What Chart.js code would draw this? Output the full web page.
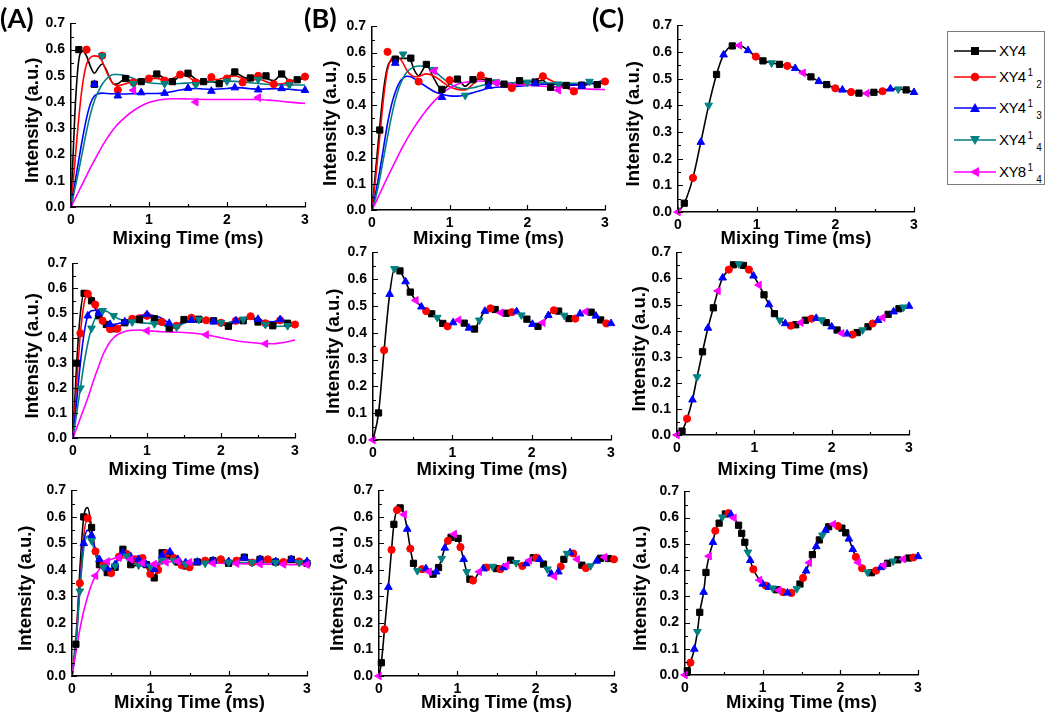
<!DOCTYPE html>
<html><head><meta charset="utf-8">
<script src="https://cdn.jsdelivr.net/npm/chart.js@4.4.1/dist/chart.umd.min.js"></script>
<style>
html,body{margin:0;padding:0;background:#fff;}
#wrap{position:relative;width:1050px;height:716px;overflow:hidden;font-family:'Liberation Sans',Arial,sans-serif;background:#fff;}
canvas.pc{position:absolute;}
.plabel{position:absolute;font-family:Lato,'Open Sans',sans-serif;font-weight:700;font-size:27px;color:#000;line-height:1;z-index:5;}
#legend{position:absolute;left:947px;top:31px;width:98px;height:154px;border:1px solid #7a7a7a;box-sizing:border-box;background:#fff;z-index:5;}
.li{position:absolute;left:0;height:20px;width:96px;}
.li svg{position:absolute;left:5px;top:0;}
.li .tx{position:absolute;left:51px;top:0;font-size:15px;line-height:20px;white-space:nowrap;letter-spacing:-0.6px;color:#000;}
.li sup{font-size:10px;position:relative;top:-6px;vertical-align:baseline;margin-left:2px;letter-spacing:0;}
.li sub{font-size:10px;position:relative;top:6px;vertical-align:baseline;margin-left:3px;letter-spacing:0;}
</style></head>
<body>
<div id="wrap">
  <div class="plabel" style="left:0px;top:4px;">(A)</div>
  <div class="plabel" style="left:304px;top:4px;">(B)</div>
  <div class="plabel" style="left:592px;top:4px;">(C)</div>
  <div id="legend"></div>
</div>
<script>
// ---------------- tick labels & series ----------------
const X_TICKS = [0, 1, 2, 3];
const Y_TICKS = [0.0, 0.1, 0.2, 0.3, 0.4, 0.5, 0.6, 0.7];
const SERIES_BASE = ['XY4', 'XY4', 'XY4', 'XY4', 'XY8'];
const SERIES_SUP  = ['', '1', '1', '1', '1'];
const SERIES_SUB  = ['', '2', '3', '4', '4'];
const X_TITLE = 'Mixing Time (ms)';
const Y_TITLE = 'Intensity (a.u.)';

// ---------------- time grids ----------------
const T37 = [0,0.05,0.1,0.15,0.2,0.25,0.3,0.35,0.4,0.45,0.5,0.55,0.6,0.7,0.8,0.9,1.0,1.1,1.2,1.3,1.4,1.5,1.6,1.7,1.8,1.9,2.0,2.1,2.2,2.3,2.4,2.5,2.6,2.7,2.8,2.9,3.0];
const T46 = [0,0.05,0.1,0.15,0.2,0.25,0.3,0.35,0.4,0.45,0.5,0.55,0.6,0.65,0.7,0.75,0.8,0.85,0.9,0.95,1.0,1.05,1.1,1.15,1.2,1.25,1.3,1.35,1.4,1.45,1.5,1.6,1.7,1.8,1.9,2.0,2.1,2.2,2.3,2.4,2.5,2.6,2.7,2.8,2.9,3.0];

// ---------------- Panel A, row 1 ----------------
const A1_XY4    = [0,0.36,0.56,0.595,0.575,0.535,0.51,0.53,0.545,0.525,0.49,0.468,0.47,0.49,0.476,0.478,0.492,0.505,0.49,0.479,0.5,0.507,0.487,0.474,0.478,0.472,0.49,0.512,0.497,0.488,0.5,0.49,0.482,0.505,0.482,0.484,0.492];
const A1_XY4_12 = [0,0.17,0.34,0.47,0.545,0.57,0.576,0.574,0.555,0.52,0.488,0.468,0.463,0.47,0.478,0.484,0.49,0.49,0.485,0.49,0.503,0.497,0.477,0.474,0.485,0.487,0.495,0.5,0.49,0.482,0.488,0.478,0.469,0.47,0.476,0.487,0.496];
const A1_XY4_13 = [0,0.09,0.18,0.265,0.34,0.395,0.423,0.432,0.434,0.433,0.432,0.432,0.431,0.431,0.432,0.433,0.433,0.433,0.435,0.44,0.446,0.451,0.452,0.45,0.449,0.45,0.452,0.455,0.454,0.451,0.449,0.45,0.451,0.451,0.449,0.446,0.444];
const A1_XY4_14 = [0,0.07,0.14,0.215,0.29,0.355,0.405,0.44,0.468,0.487,0.5,0.505,0.505,0.5,0.49,0.48,0.474,0.471,0.47,0.47,0.471,0.473,0.475,0.477,0.478,0.479,0.48,0.479,0.477,0.474,0.471,0.468,0.466,0.465,0.465,0.465,0.465];
const A1_XY8_14 = [0,0.03,0.06,0.09,0.12,0.15,0.178,0.205,0.232,0.256,0.278,0.298,0.316,0.344,0.367,0.385,0.398,0.406,0.411,0.413,0.413,0.412,0.411,0.41,0.41,0.41,0.41,0.41,0.41,0.41,0.41,0.408,0.406,0.403,0.4,0.397,0.395];
const A1_MT_XY4 = [0.1,0.3,0.7,0.9,1.1,1.3,1.5,1.7,1.9,2.1,2.3,2.5,2.7,2.9];
const A1_MV_XY4 = [0.6,0.468,0.49,0.478,0.507,0.478,0.51,0.478,0.47,0.515,0.492,0.5,0.507,0.485];
const A1_MT_XY4_12 = [0.2,0.4,0.6,0.8,1.0,1.2,1.4,1.6,1.8,2.0,2.2,2.4,2.6,2.8,3.0];
const A1_MV_XY4_12 = [0.6,0.577,0.446,0.475,0.49,0.482,0.505,0.475,0.495,0.49,0.475,0.5,0.468,0.474,0.497];
const A1_MT_XY4_13 = [0.3,0.6,0.9,1.2,1.5,1.8,2.1,2.4,2.7,3.0];
const A1_MV_XY4_13 = [0.468,0.424,0.436,0.434,0.453,0.442,0.455,0.447,0.452,0.445];
const A1_MT_XY4_14 = [0.4,0.8,1.2,1.6,2.0,2.4,2.8];
const A1_MV_XY4_14 = [0.576,0.47,0.47,0.466,0.48,0.486,0.465];
const A1_MT_XY8_14 = [0.8,1.6,2.4];
const A1_MV_XY8_14 = [0.445,0.4,0.417];

// ---------------- Panel B, row 1 ----------------
const B1_XY4    = [0,0.16,0.32,0.46,0.545,0.572,0.577,0.578,0.578,0.578,0.568,0.53,0.512,0.552,0.5,0.458,0.48,0.499,0.472,0.497,0.5,0.49,0.484,0.48,0.481,0.492,0.488,0.49,0.494,0.47,0.47,0.474,0.477,0.48,0.484,0.478,0.49];
const B1_XY4_12 = [0,0.13,0.28,0.43,0.535,0.577,0.586,0.58,0.56,0.532,0.515,0.508,0.51,0.519,0.51,0.49,0.47,0.46,0.458,0.48,0.505,0.5,0.485,0.478,0.475,0.478,0.485,0.495,0.507,0.495,0.48,0.466,0.457,0.468,0.481,0.488,0.49];
const B1_XY4_13 = [0,0.07,0.15,0.24,0.33,0.4,0.45,0.485,0.503,0.51,0.508,0.5,0.49,0.47,0.452,0.441,0.435,0.434,0.439,0.447,0.456,0.464,0.468,0.469,0.47,0.472,0.475,0.478,0.48,0.48,0.479,0.478,0.477,0.478,0.481,0.487,0.495];
const B1_XY4_14 = [0,0.05,0.12,0.2,0.28,0.355,0.42,0.468,0.503,0.526,0.539,0.546,0.549,0.547,0.53,0.505,0.482,0.467,0.462,0.466,0.474,0.48,0.483,0.484,0.485,0.485,0.485,0.485,0.485,0.484,0.483,0.483,0.483,0.484,0.486,0.488,0.49];
const B1_XY8_14 = [0,0.03,0.062,0.094,0.125,0.155,0.185,0.215,0.244,0.27,0.295,0.318,0.34,0.38,0.415,0.444,0.465,0.479,0.487,0.491,0.492,0.49,0.486,0.483,0.48,0.478,0.476,0.474,0.472,0.47,0.468,0.466,0.464,0.462,0.461,0.46,0.459];
const B1_MT_XY4 = [0.1,0.3,0.5,0.7,0.9,1.1,1.3,1.5,1.7,1.9,2.1,2.3,2.5,2.7,2.9];
const B1_MV_XY4 = [0.305,0.575,0.579,0.555,0.46,0.499,0.497,0.49,0.48,0.493,0.488,0.468,0.475,0.476,0.478];
const B1_MT_XY4_12 = [0.2,0.6,1.0,1.4,1.8,2.2,2.6,3.0];
const B1_MV_XY4_12 = [0.603,0.49,0.495,0.513,0.465,0.51,0.452,0.49];
const B1_MT_XY4_13 = [0.3,0.9,1.5,2.1,2.7];
const B1_MV_XY4_13 = [0.56,0.43,0.472,0.482,0.473];
const B1_MT_XY4_14 = [0.4,0.8,1.2,1.6,2.0,2.4,2.8];
const B1_MV_XY4_14 = [0.594,0.535,0.437,0.488,0.487,0.48,0.49];
const B1_MT_XY8_14 = [0.8,1.6,2.4];
const B1_MV_XY8_14 = [0.53,0.484,0.457];

// ---------------- Panel A, row 2 ----------------
const A2_XY4    = [0,0.3,0.5,0.58,0.575,0.55,0.52,0.49,0.468,0.455,0.445,0.438,0.44,0.462,0.465,0.475,0.49,0.478,0.47,0.44,0.445,0.475,0.482,0.476,0.468,0.47,0.458,0.448,0.468,0.47,0.482,0.465,0.46,0.45,0.47,0.46,0.455];
const A2_XY4_12 = [0,0.22,0.42,0.54,0.578,0.565,0.535,0.5,0.47,0.45,0.437,0.433,0.438,0.465,0.478,0.493,0.49,0.475,0.465,0.44,0.45,0.475,0.482,0.478,0.472,0.468,0.462,0.462,0.47,0.482,0.488,0.472,0.46,0.455,0.472,0.465,0.455];
const A2_XY4_13 = [0,0.15,0.3,0.42,0.49,0.51,0.512,0.5,0.478,0.462,0.456,0.455,0.458,0.466,0.474,0.488,0.495,0.49,0.48,0.46,0.452,0.462,0.472,0.474,0.471,0.466,0.462,0.462,0.47,0.478,0.482,0.476,0.468,0.466,0.475,0.468,0.455];
const A2_XY4_14 = [0,0.1,0.2,0.3,0.38,0.44,0.48,0.503,0.51,0.508,0.5,0.49,0.48,0.47,0.465,0.462,0.46,0.458,0.455,0.443,0.445,0.46,0.475,0.475,0.47,0.466,0.463,0.462,0.468,0.476,0.48,0.47,0.455,0.447,0.448,0.45,0.452];
const A2_XY8_14 = [0,0.04,0.08,0.12,0.16,0.205,0.25,0.29,0.33,0.36,0.385,0.402,0.414,0.427,0.432,0.433,0.43,0.428,0.426,0.425,0.424,0.423,0.421,0.418,0.414,0.408,0.402,0.396,0.39,0.386,0.383,0.38,0.378,0.378,0.381,0.386,0.393];

// ---------------- Panel A, row 3 ----------------
const A3_XY4    = [0,0.12,0.4,0.6,0.635,0.56,0.46,0.42,0.41,0.39,0.385,0.41,0.455,0.478,0.46,0.42,0.415,0.44,0.45,0.42,0.38,0.37,0.42,0.465,0.475,0.455,0.44,0.43,0.42,0.415,0.415,0.43,0.438,0.435,0.442,0.425,0.44,0.448,0.43,0.44,0.435,0.43,0.425,0.44,0.43,0.425];
const A3_XY4_12 = [0,0.15,0.35,0.53,0.595,0.55,0.47,0.43,0.42,0.395,0.388,0.41,0.45,0.472,0.46,0.43,0.44,0.452,0.445,0.41,0.385,0.37,0.4,0.445,0.462,0.458,0.445,0.43,0.418,0.412,0.41,0.432,0.435,0.433,0.44,0.422,0.435,0.44,0.428,0.438,0.44,0.428,0.43,0.44,0.432,0.425];
const A3_XY4_13 = [0,0.12,0.33,0.5,0.55,0.53,0.475,0.44,0.418,0.405,0.405,0.42,0.448,0.465,0.46,0.45,0.445,0.44,0.432,0.42,0.41,0.402,0.42,0.455,0.475,0.468,0.452,0.44,0.432,0.428,0.425,0.43,0.433,0.435,0.438,0.432,0.438,0.445,0.433,0.44,0.44,0.432,0.432,0.44,0.435,0.432];
const A3_XY4_14 = [0,0.12,0.32,0.48,0.528,0.51,0.46,0.43,0.41,0.4,0.398,0.415,0.44,0.455,0.452,0.438,0.425,0.418,0.414,0.412,0.413,0.418,0.427,0.436,0.44,0.44,0.436,0.43,0.425,0.422,0.42,0.422,0.425,0.427,0.428,0.428,0.428,0.428,0.428,0.428,0.428,0.428,0.428,0.428,0.428,0.428];
const A3_XY8_14 = [0,0.09,0.175,0.245,0.3,0.345,0.378,0.403,0.42,0.432,0.44,0.444,0.446,0.446,0.444,0.44,0.436,0.431,0.427,0.424,0.422,0.422,0.423,0.426,0.429,0.431,0.432,0.432,0.431,0.43,0.429,0.427,0.426,0.425,0.425,0.424,0.424,0.423,0.423,0.422,0.422,0.421,0.421,0.42,0.42,0.42];

// ---------------- overlapping panels (one curve, markers by series) ----------------
const C1_T = [0,0.08,0.19,0.29,0.39,0.49,0.58,0.69,0.78,0.89,0.99,1.08,1.19,1.29,1.39,1.49,1.59,1.69,1.79,1.89,2.0,2.09,2.2,2.3,2.4,2.49,2.6,2.7,2.8,2.9,3.0];
const C1_V = [0,0.033,0.128,0.262,0.40,0.516,0.59,0.623,0.625,0.606,0.583,0.567,0.559,0.554,0.548,0.539,0.522,0.507,0.49,0.478,0.464,0.458,0.45,0.446,0.445,0.449,0.453,0.462,0.461,0.458,0.449];
const C1_S = [4,0,1,2,3,0,2,0,4,2,1,0,3,0,1,2,4,0,2,0,1,2,1,0,4,0,1,2,3,0,2];

const B2_T = [0,0.07,0.14,0.21,0.27,0.34,0.41,0.47,0.54,0.61,0.67,0.74,0.81,0.88,0.94,1.01,1.08,1.15,1.21,1.28,1.34,1.41,1.48,1.54,1.61,1.68,1.75,1.81,1.87,1.94,2.01,2.08,2.14,2.21,2.28,2.34,2.41,2.47,2.55,2.61,2.68,2.75,2.81,2.87,2.94,3.0];
const B2_V = [0,0.101,0.335,0.544,0.639,0.631,0.591,0.552,0.521,0.497,0.481,0.471,0.457,0.435,0.424,0.438,0.448,0.436,0.418,0.414,0.447,0.481,0.491,0.487,0.475,0.473,0.477,0.479,0.466,0.451,0.432,0.424,0.438,0.465,0.484,0.481,0.465,0.453,0.453,0.471,0.479,0.477,0.463,0.448,0.435,0.435];
const B2_S = [4,0,1,2,3,0,2,0,4,2,1,0,3,0,1,2,4,0,2,0,3,2,1,0,4,0,1,2,3,0,2,0,4,2,1,0,3,0,1,2,4,0,2,0,1,2];

const C2_T = [0,0.065,0.13,0.2,0.26,0.33,0.4,0.47,0.53,0.59,0.67,0.73,0.8,0.86,0.93,0.99,1.06,1.125,1.19,1.26,1.33,1.4,1.47,1.535,1.6,1.66,1.74,1.8,1.87,1.93,2.0,2.07,2.13,2.2,2.27,2.33,2.4,2.47,2.53,2.6,2.66,2.73,2.8,2.87,2.93,3.0];
const C2_V = [0,0.015,0.0625,0.135,0.2225,0.319,0.41,0.4875,0.5525,0.6025,0.634,0.6525,0.656,0.65,0.634,0.61,0.575,0.5375,0.5,0.465,0.44,0.4275,0.419,0.4225,0.431,0.44,0.446,0.4475,0.441,0.431,0.415,0.4025,0.39,0.3875,0.385,0.3925,0.4025,0.415,0.4275,0.44,0.45,0.4625,0.4725,0.484,0.49,0.494];
const C2_S = [4,0,1,2,3,0,2,0,4,2,1,0,3,0,1,2,4,0,2,0,3,2,1,0,4,0,1,2,3,0,2,0,4,2,1,0,3,0,1,2,4,0,2,0,3,2];

const B3_T = [0,0.03,0.07,0.12,0.16,0.19,0.23,0.27,0.32,0.36,0.4,0.44,0.49,0.55,0.6,0.64,0.69,0.73,0.76,0.8,0.84,0.88,0.92,0.96,1.01,1.04,1.08,1.12,1.16,1.2,1.28,1.33,1.37,1.45,1.5,1.55,1.59,1.63,1.68,1.75,1.83,1.88,1.92,1.97,2.01,2.05,2.1,2.15,2.2,2.24,2.29,2.32,2.36,2.4,2.44,2.48,2.53,2.59,2.64,2.7,2.78,2.83,2.88,2.93,3.0];
const B3_V = [0,0.05,0.176,0.335,0.476,0.572,0.626,0.634,0.609,0.554,0.48,0.425,0.397,0.403,0.405,0.393,0.384,0.393,0.409,0.443,0.483,0.51,0.523,0.535,0.519,0.486,0.44,0.393,0.365,0.36,0.393,0.405,0.409,0.413,0.405,0.403,0.409,0.418,0.437,0.427,0.415,0.424,0.436,0.446,0.446,0.44,0.422,0.403,0.385,0.376,0.393,0.413,0.44,0.462,0.465,0.462,0.44,0.418,0.407,0.415,0.434,0.444,0.448,0.443,0.44];
const B3_S = [4,0,1,2,1,0,1,0,4,2,1,0,3,1,2,4,0,2,0,3,2,1,0,4,0,1,2,3,0,1,4,2,1,3,0,1,2,4,0,3,1,2,4,0,1,2,0,3,2,4,2,1,0,3,2,1,4,0,1,3,2,0,4,0,1];

const C3_T = [0,0.03,0.07,0.12,0.16,0.19,0.24,0.27,0.31,0.36,0.39,0.44,0.48,0.52,0.56,0.59,0.63,0.69,0.73,0.77,0.81,0.84,0.88,0.96,1.0,1.04,1.08,1.13,1.18,1.21,1.26,1.32,1.37,1.44,1.48,1.52,1.56,1.6,1.64,1.69,1.73,1.77,1.81,1.85,1.91,1.97,2.02,2.07,2.11,2.16,2.2,2.23,2.28,2.35,2.4,2.46,2.52,2.56,2.61,2.68,2.74,2.81,2.88,2.94,3.0];
const C3_V = [0,0.016,0.047,0.099,0.165,0.239,0.316,0.391,0.453,0.506,0.55,0.579,0.602,0.614,0.617,0.612,0.599,0.571,0.54,0.506,0.468,0.437,0.403,0.362,0.347,0.341,0.335,0.331,0.325,0.323,0.316,0.313,0.313,0.329,0.347,0.37,0.397,0.428,0.459,0.49,0.515,0.533,0.552,0.565,0.575,0.568,0.56,0.542,0.519,0.479,0.45,0.429,0.407,0.392,0.39,0.398,0.41,0.419,0.426,0.434,0.439,0.442,0.446,0.448,0.452];
const C3_S = [4,0,1,2,3,0,2,0,4,2,1,0,3,0,1,2,4,0,0,0,3,2,1,4,2,1,2,3,0,4,1,2,1,3,0,1,2,4,0,2,0,3,2,0,4,1,0,0,2,2,1,4,1,3,0,1,2,4,0,3,0,4,0,1,2];

// ---------------- styling ----------------
const COLORS = ['#000000', '#ff0000', '#0000ff', '#008080', '#ff00ff'];
const PSTYLE = ['rect', 'circle', 'triangle', 'triangle', 'triangle'];
const PROT   = [0, 0, 0, 180, 270];
const PRAD   = [4.4, 3.6, 4.4, 4.4, 4.4];
const FONT = "'Liberation Sans', Arial, sans-serif";
const YW = 62, PT = 10, PR = 14, XH = 52;

const PANELS = [
  {rect:[71,19,305,207],  kind:'fit', t:T37, lines:[A1_XY4,A1_XY4_12,A1_XY4_13,A1_XY4_14,A1_XY8_14],
   marks:[[A1_MT_XY4,A1_MV_XY4],[A1_MT_XY4_12,A1_MV_XY4_12],[A1_MT_XY4_13,A1_MV_XY4_13],[A1_MT_XY4_14,A1_MV_XY4_14],[A1_MT_XY8_14,A1_MV_XY8_14]],
   yTitleX:33, xTitleY:244},
  {rect:[372,22,605,210], kind:'fit', t:T37, lines:[B1_XY4,B1_XY4_12,B1_XY4_13,B1_XY4_14,B1_XY8_14],
   marks:[[B1_MT_XY4,B1_MV_XY4],[B1_MT_XY4_12,B1_MV_XY4_12],[B1_MT_XY4_13,B1_MV_XY4_13],[B1_MT_XY4_14,B1_MV_XY4_14],[B1_MT_XY8_14,B1_MV_XY8_14]],
   yTitleX:331, xTitleY:244},
  {rect:[678,21,914,212], kind:'overlap', t:C1_T, v:C1_V, s:C1_S, yTitleX:634, xTitleY:244},
  {rect:[73,259,295,438], kind:'fitOn', t:T37, lines:[A2_XY4,A2_XY4_12,A2_XY4_13,A2_XY4_14,A2_XY8_14],
   every:[2,2,3,3,8], off:[1,0,1,2,0], minT:[0.05,0.1,0.1,0.1,1.0], yTitleX:33, xTitleY:475},
  {rect:[373,248,611,440], kind:'overlap', t:B2_T, v:B2_V, s:B2_S, yTitleX:334, xTitleY:475},
  {rect:[677,248,909,435], kind:'overlap', t:C2_T, v:C2_V, s:C2_S, yTitleX:640, xTitleY:475},
  {rect:[72,486,307,676], kind:'fitOn', t:T46, lines:[A3_XY4,A3_XY4_12,A3_XY4_13,A3_XY4_14,A3_XY8_14],
   every:[2,2,2,3,3], off:[1,0,1,2,0], minT:[0.05,0.05,0.1,0.1,0.3], yTitleX:26, xTitleY:708},
  {rect:[379,486,614,676], kind:'overlap', t:B3_T, v:B3_V, s:B3_S, yTitleX:338, xTitleY:708},
  {rect:[685,487,918,675], kind:'overlap', t:C3_T, v:C3_V, s:C3_S, yTitleX:641, xTitleY:708}
];

function pts(t, v) { return t.map((x, i) => ({x: x, y: v[i]})); }

function lineDs(data, si, ord) {
  return {type:'line', data:data, borderColor:COLORS[si], borderWidth:1.6, pointRadius:0,
          pointHoverRadius:0, cubicInterpolationMode:'monotone', fill:false, order:ord, clip:false};
}
function markDs(data, si, show) {
  return {type:'line', data:data, showLine:false, pointStyle:PSTYLE[si], rotation:PROT[si],
          pointRotation:PROT[si], backgroundColor:COLORS[si], borderColor:COLORS[si], borderWidth:1,
          pointBackgroundColor:COLORS[si], pointBorderColor:COLORS[si],
          pointRadius:(c) => show(c.dataIndex) ? PRAD[si] : 0, pointHoverRadius:0,
          order:10 - si, clip:false};
}

function buildDatasets(p) {
  const ds = [];
  if (p.kind === 'fit') {
    p.lines.forEach((v, si) => ds.push(lineDs(pts(p.t, v), si, 30 - si)));
    p.marks.forEach((m, si) => ds.push(markDs(pts(m[0], m[1]), si, () => true)));
  } else if (p.kind === 'fitOn') {
    p.lines.forEach((v, si) => ds.push(lineDs(pts(p.t, v), si, 30 - si)));
    p.lines.forEach((v, si) => ds.push(markDs(pts(p.t, v), si,
      (i) => p.t[i] >= p.minT[si] && (i % p.every[si]) === p.off[si])));
  } else {
    ds.push(lineDs(pts(p.t, p.v), 0, 40));
    for (let si = 0; si < 5; si++) ds.push(markDs(pts(p.t, p.v), si, (i) => p.s[i] === si));
  }
  return ds;
}

const decor = {
  id: 'decor',
  afterDraw(chart, args, o) {
    const {ctx, chartArea: a, scales: {x, y}} = chart;
    ctx.save();
    ctx.strokeStyle = '#000';
    ctx.lineWidth = 1.2;
    // inward ticks
    const yMaj = Y_TICKS, xMaj = X_TICKS;
    ctx.beginPath();
    yMaj.forEach((v, i) => {
      const py = Math.round(y.getPixelForValue(v)) + 0.5;
      ctx.moveTo(a.left, py); ctx.lineTo(a.left + 5, py);
      if (i < yMaj.length - 1) {
        const pm = Math.round(y.getPixelForValue((v + yMaj[i + 1]) / 2)) + 0.5;
        ctx.moveTo(a.left, pm); ctx.lineTo(a.left + 3, pm);
      }
    });
    xMaj.forEach((v, i) => {
      const px = Math.round(x.getPixelForValue(v)) + 0.5;
      ctx.moveTo(px, a.bottom); ctx.lineTo(px, a.bottom - 5);
      if (i < xMaj.length - 1) {
        const pm = Math.round(x.getPixelForValue((v + xMaj[i + 1]) / 2)) + 0.5;
        ctx.moveTo(pm, a.bottom); ctx.lineTo(pm, a.bottom - 3);
      }
    });
    ctx.stroke();
    // axis titles
    ctx.fillStyle = '#000';
    ctx.font = "bold 18.5px " + FONT;
    ctx.textAlign = 'center';
    ctx.textBaseline = 'alphabetic';
    ctx.fillText(X_TITLE, (a.left + a.right) / 2, o.xTitleY);
    ctx.translate(o.yTitleX, (a.top + a.bottom) / 2 + 5);
    ctx.rotate(-Math.PI / 2);
    ctx.textBaseline = 'middle';
    ctx.fillText(Y_TITLE, 0, 0);
    ctx.restore();
  }
};

const wrap = document.getElementById('wrap');
PANELS.forEach((p) => {
  const [L, T, R, B] = p.rect;
  const cl = L - YW, ct = T - PT;
  const cw = (R - L) + YW + PR, ch = (B - T) + PT + XH;
  const cv = document.createElement('canvas');
  cv.className = 'pc';
  cv.width = cw; cv.height = ch;
  cv.style.left = cl + 'px'; cv.style.top = ct + 'px';
  cv.style.width = cw + 'px'; cv.style.height = ch + 'px';
  wrap.appendChild(cv);
  new Chart(cv, {
    type: 'line',
    data: {datasets: buildDatasets(p)},
    options: {
      responsive: false, animation: false, devicePixelRatio: 1,
      layout: {padding: {left: 0, top: PT, right: PR, bottom: 0}},
      plugins: {legend: {display: false}, tooltip: {enabled: false},
                decor: {yTitleX: p.yTitleX - cl, xTitleY: p.xTitleY - ct}},
      scales: {
        x: {type: 'linear', min: 0, max: 3,
            afterBuildTicks: (s) => { s.ticks = X_TICKS.map(v => ({value: v})); },
            afterFit: (s) => { s.height = XH; },
            grid: {display: false, drawTicks: false},
            border: {display: true, color: '#000', width: 1.5},
            ticks: {padding: 5, color: '#000', maxRotation: 0, autoSkip: false,
                    font: {family: FONT, size: 14, weight: 'bold'}, callback: (v) => String(v)}},
        y: {type: 'linear', min: 0, max: 0.7,
            afterBuildTicks: (s) => { s.ticks = Y_TICKS.map(v => ({value: v})); },
            afterFit: (s) => { s.width = YW; },
            grid: {display: false, drawTicks: false},
            border: {display: true, color: '#000', width: 1.5},
            ticks: {padding: 6, color: '#000', autoSkip: false,
                    font: {family: FONT, size: 14, weight: 'bold'}, callback: (v) => Number(v).toFixed(1)}}
      }
    },
    plugins: [decor]
  });
});

// ---------------- legend (HTML) ----------------
const LEG_Y = [9, 35, 66, 98, 130];
const MARK_SVG = [
  '<rect x="18" y="6" width="8" height="8" fill="#000"/>',
  '<circle cx="22" cy="10" r="4.3" fill="#ff0000"/>',
  '<polygon points="22,5 17,14 27,14" fill="#0000ff"/>',
  '<polygon points="22,15 17,6 27,6" fill="#008080"/>',
  '<polygon points="17,10 26,5 26,15" fill="#ff00ff"/>'
];
const leg = document.getElementById('legend');
for (let si = 0; si < 5; si++) {
  const d = document.createElement('div');
  d.className = 'li';
  d.style.top = LEG_Y[si] + 'px';
  let label = SERIES_BASE[si];
  if (SERIES_SUP[si]) label += '<sup>' + SERIES_SUP[si] + '</sup><sub>' + SERIES_SUB[si] + '</sub>';
  d.innerHTML = '<svg width="44" height="20"><line x1="1" y1="10" x2="43" y2="10" stroke="' + COLORS[si] +
    '" stroke-width="1.6"/>' + MARK_SVG[si] + '</svg><span class="tx">' + label + '</span>';
  leg.appendChild(d);
}
</script>
</body></html>
